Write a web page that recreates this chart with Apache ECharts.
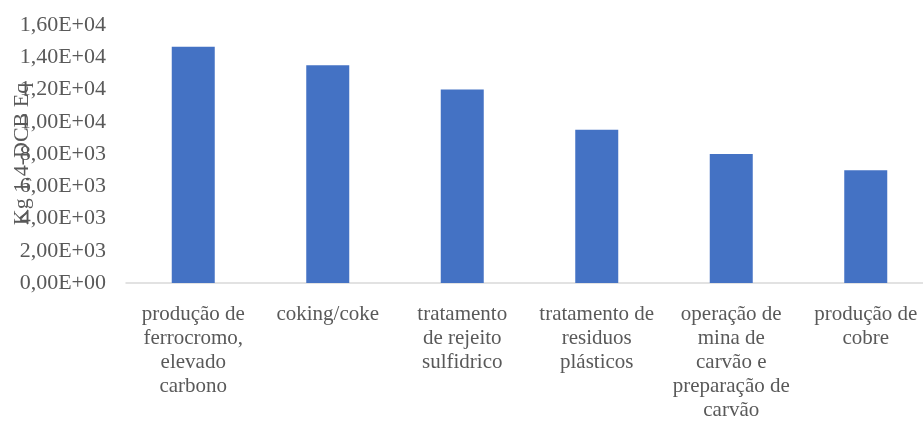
<!DOCTYPE html>
<html>
<head>
<meta charset="utf-8">
<script src="https://cdn.jsdelivr.net/npm/echarts@6/dist/echarts.min.js"></script>
<style>html,body{margin:0;padding:0;background:#fff}#c{width:923px;height:426px}</style>
</head>
<body>
<div id="c"></div>
<script>
const categories = [
  "produção de\nferrocromo,\nelevado\ncarbono",
  "coking/coke",
  "tratamento\nde rejeito\nsulfidrico",
  "tratamento de\nresiduos\nplásticos",
  "operação de\nmina de\ncarvão e\npreparação de\ncarvão",
  "produção de\ncobre"
];
const values = [14650, 13500, 12000, 9500, 8000, 7000];
const yAxisTitle = "Kg 1,4-DCB Eq";

function sci(v) {
  if (v === 0) return "0,00E+00";
  const e = Math.floor(Math.log10(Math.abs(v)));
  const m = v / Math.pow(10, e);
  const es = (e < 0 ? "-" : "+") + String(Math.abs(e)).padStart(2, "0");
  return m.toFixed(2).replace(".", ",") + "E" + es;
}

const font = "'Liberation Serif', 'Times New Roman', serif";
const chart = echarts.init(document.getElementById('c'), null, {renderer: 'canvas'});
chart.setOption({
  animation: false,
  backgroundColor: '#fff',
  grid: {left: 126, right: -10, top: 25, bottom: 143, containLabel: false, outerBoundsMode: 'none'},
  xAxis: {
    type: 'category',
    data: categories,
    axisLine: {show: true, lineStyle: {color: '#D9D9D9', width: 1.5}},
    axisTick: {show: false},
    axisLabel: {
      color: '#595959', fontFamily: font, fontSize: 21, lineHeight: 24,
      margin: 19, interval: 0, align: 'center', hideOverlap: false
    }
  },
  yAxis: {
    type: 'value',
    min: 0, max: 16000, interval: 2000,
    name: yAxisTitle,
    nameLocation: 'middle',
    nameGap: 93,
    nameRotate: 90,
    nameMoveOverlap: false,
    nameTextStyle: {color: '#595959', fontFamily: font, fontSize: 22},
    axisLine: {show: false},
    axisTick: {show: false},
    splitLine: {show: false},
    axisLabel: {color: '#595959', fontFamily: font, fontSize: 22, margin: 20, formatter: sci}
  },
  series: [{
    type: 'bar',
    data: values,
    barWidth: 43,
    itemStyle: {color: '#4472C4'}
  }]
});
</script>
</body>
</html>
